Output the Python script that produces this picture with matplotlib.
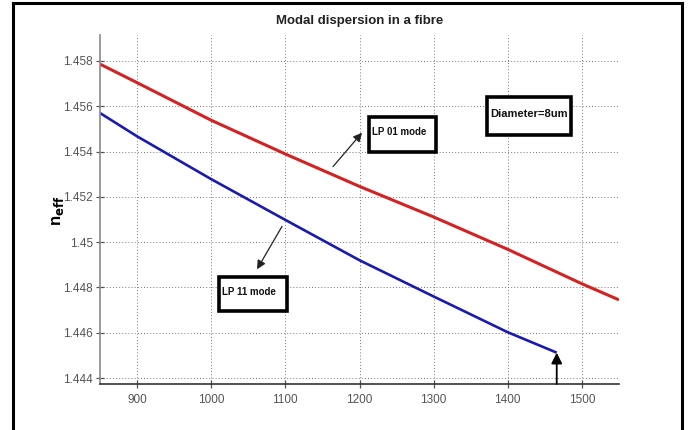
import matplotlib
matplotlib.use("Agg")
import matplotlib.pyplot as plt
from matplotlib.patches import Rectangle
from matplotlib.lines import Line2D

plt.rcParams['font.family'] = ['Liberation Sans', 'DejaVu Sans']

# Effective index vs wavelength (nm)
wl_lp01 = [850, 900, 1000, 1100, 1200, 1300, 1400, 1500, 1550]
neff_lp01 = [1.45786, 1.45704, 1.45538, 1.45389, 1.45246, 1.45111, 1.44968, 1.44816, 1.44745]

wl_lp11 = [850, 900, 1000, 1100, 1200, 1300, 1400, 1466]
neff_lp11 = [1.45570, 1.45467, 1.45278, 1.45098, 1.44920, 1.44760, 1.44602, 1.44512]

xticks = [900, 1000, 1100, 1200, 1300, 1400, 1500]
yticks = [1.444, 1.446, 1.448, 1.450, 1.452, 1.454, 1.456, 1.458]
ytick_labels = ['1.444', '1.446', '1.448', '1.45', '1.452', '1.454', '1.456', '1.458']

title = 'Modal dispersion in a fibre'
lp01_label = 'LP 01 mode'
lp11_label = 'LP 11 mode'
diameter_label = 'Diameter=8um'

fig = plt.figure(figsize=(6.9, 4.3), dpi=100)
fig.patch.set_facecolor('white')
ax = fig.add_axes([100 / 690, 46 / 430, 519 / 690, 349 / 430])

ax.plot(wl_lp01, neff_lp01, color='#d42222', lw=2.2, solid_capstyle='butt')
ax.plot(wl_lp11, neff_lp11, color='#1a1ab0', lw=1.9, solid_capstyle='butt')

ax.set_xlim(850, 1550)
ax.set_ylim(1.443736, 1.459144)
ax.set_xticks(xticks)
ax.set_xticklabels([str(t) for t in xticks])
ax.set_yticks(yticks)
ax.set_yticklabels(ytick_labels)

ax.grid(True, linestyle=(0, (1, 2.2)), color='#777777', lw=0.7)
ax.set_axisbelow(True)
for side in ('top', 'right'):
    ax.spines[side].set_visible(False)
ax.spines['left'].set_color('#8a8a8a')
ax.spines['bottom'].set_color('#333333')
ax.spines['left'].set_linewidth(1.2)
ax.spines['bottom'].set_linewidth(1.2)
ax.tick_params(axis='both', direction='inout', length=6, width=0.9,
               colors='#555555', labelsize=8.5, labelcolor='#555555')
ax.tick_params(axis='x', pad=4)
ax.tick_params(axis='y', pad=2)

ax.set_title(title, fontsize=9.5, fontweight='bold', color='#222222', pad=8)
fig.text(58 / 690, 1 - 211 / 430, r'n$_{\mathbf{eff}}$', rotation=90,
         fontsize=12, fontweight='bold', ha='center', va='center')


def label_box(x0, x1, y0, y1, text, tx, ty, fs):
    ax.add_patch(Rectangle((x0, y0), x1 - x0, y1 - y0, facecolor='white',
                           edgecolor='black', lw=2.6, zorder=5))
    ax.text(tx, ty, text, fontsize=fs, fontweight='bold', ha='left',
            va='center', zorder=6, color='#111111')


label_box(1213, 1303, 1.453995, 1.455535, lp01_label, 1217, 1.45488, 7)
label_box(1372, 1485, 1.454743, 1.456416, diameter_label, 1376, 1.45565, 8)
label_box(1010.5, 1102.3, 1.446952, 1.448449, lp11_label, 1015, 1.44779, 7)

arrow_style = dict(arrowstyle='-|>', color='#222222', lw=0.9,
                   mutation_scale=13, shrinkA=0, shrinkB=0)
ax.annotate('', xy=(1203.4, 1.454831), xytext=(1164.3, 1.453335),
            arrowprops=arrow_style)
ax.annotate('', xy=(1061.8, 1.448801), xytext=(1095.5, 1.450694),
            arrowprops=arrow_style)
ax.annotate('', xy=(wl_lp11[-1], neff_lp11[-1]), xytext=(wl_lp11[-1], 1.443736),
            arrowprops=dict(arrowstyle='-|>', color='black', lw=1.3,
                            mutation_scale=16, shrinkA=0, shrinkB=0),
            annotation_clip=False)

# outer frame around the figure
for xs, ys in [((13 / 690, 13 / 690), (0, 1 - 3 / 430)),
               ((682 / 690, 682 / 690), (0, 1 - 3 / 430)),
               ((13 / 690, 682 / 690), (1 - 3 / 430, 1 - 3 / 430))]:
    fig.add_artist(Line2D(xs, ys, color='black', lw=2.2, transform=fig.transFigure))

fig.savefig('out.png', dpi=100, facecolor='white')
